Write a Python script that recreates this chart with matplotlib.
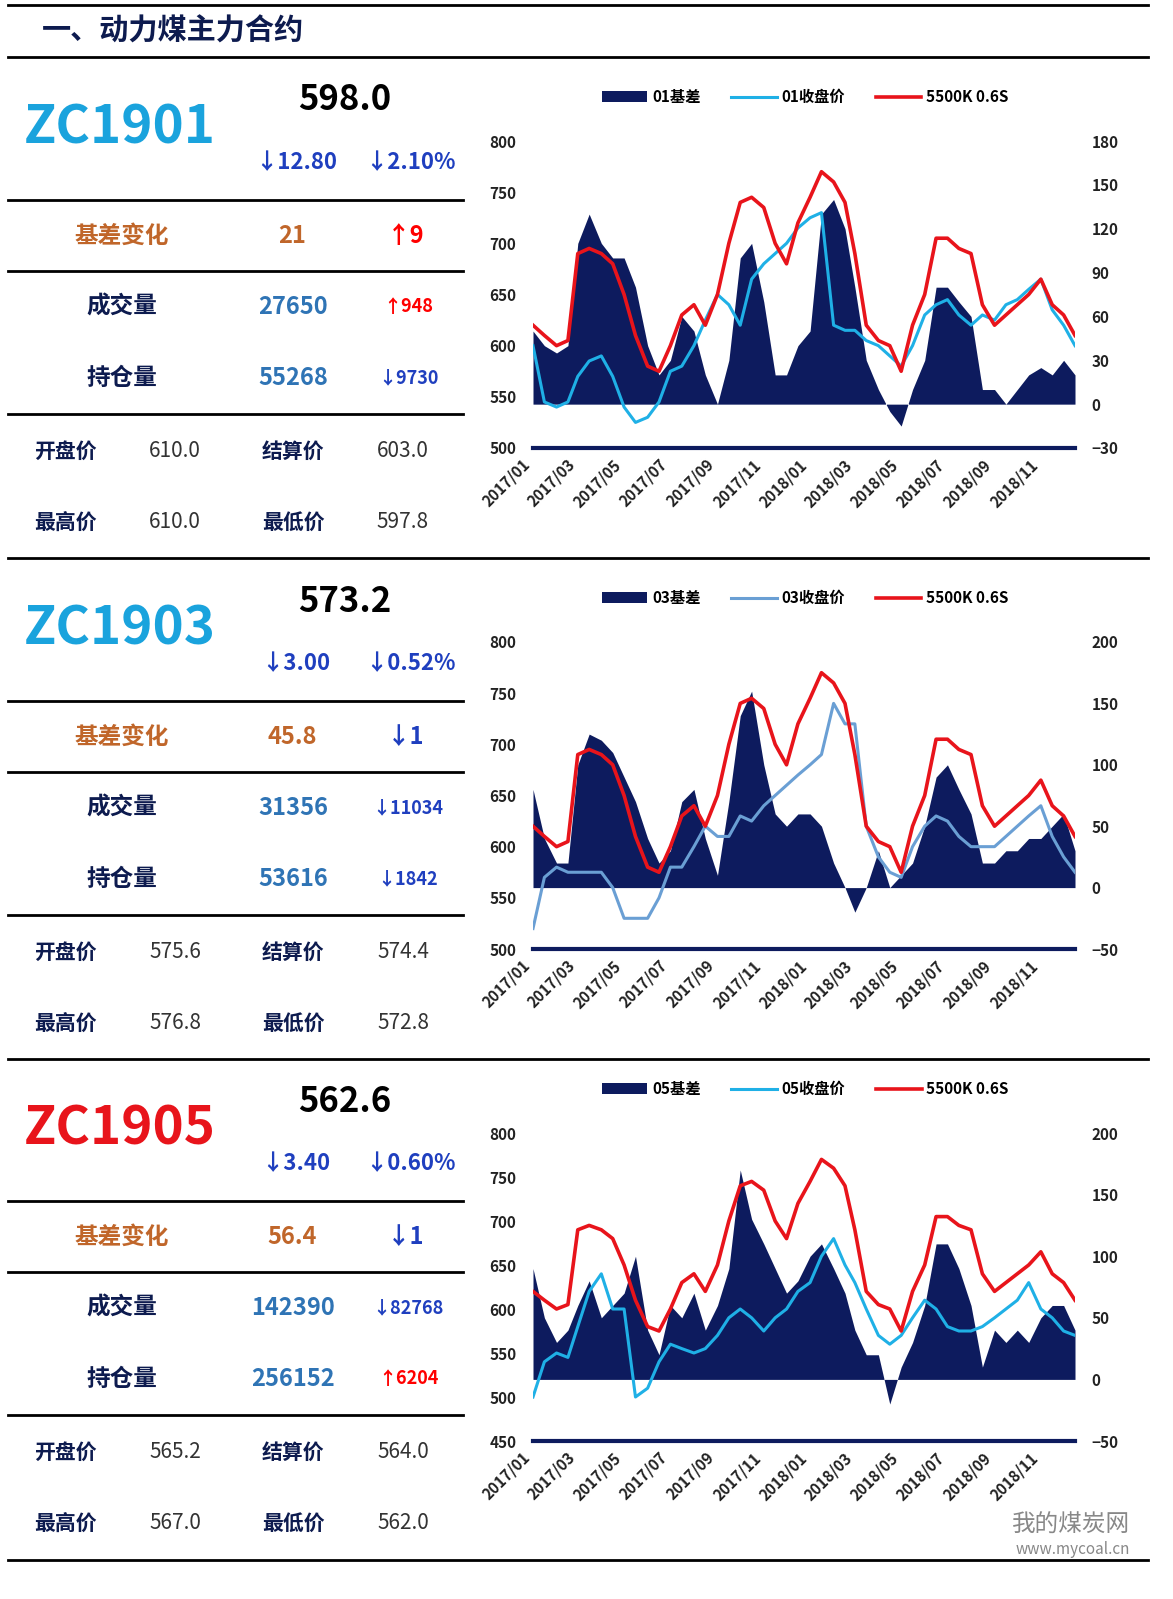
import matplotlib.pyplot as plt
import numpy as np
import pandas as pd

plt.rcParams['font.family'] = 'Noto Sans CJK SC'

W, H = 1173, 1599

# semi-monthly dates 2017/01 - 2018/12
dates = []
for y in (2017, 2018):
    for m in range(1, 13):
        dates.append(pd.Timestamp(y, m, 1))
        dates.append(pd.Timestamp(y, m, 16))
dates = pd.to_datetime(dates)

spot = [620, 610, 600, 605, 690, 695, 690, 680, 650, 610, 580, 575,
        600, 630, 640, 620, 650, 700, 740, 745, 735, 700, 680, 720,
        745, 770, 760, 740, 690, 620, 605, 600, 575, 620, 650, 705,
        705, 695, 690, 640, 620, 630, 640, 650, 665, 640, 630, 610]

close01 = [600, 545, 540, 545, 570, 585, 590, 570, 540, 525, 530, 545,
           575, 580, 600, 625, 650, 640, 620, 665, 680, 690, 700, 715,
           725, 730, 620, 615, 615, 605, 600, 590, 580, 600, 630, 640,
           645, 630, 620, 630, 625, 640, 645, 655, 665, 635, 620, 600]
basis01 = [50, 40, 35, 40, 110, 130, 110, 100, 100, 80, 40, 20,
           30, 60, 50, 20, 0, 30, 100, 110, 70, 20, 20, 40,
           50, 130, 140, 120, 80, 30, 10, -5, -15, 10, 30, 80,
           80, 70, 60, 10, 10, 0, 10, 20, 25, 20, 30, 20]

close03 = [520, 570, 580, 575, 575, 575, 575, 560, 530, 530, 530, 550,
           580, 580, 600, 620, 610, 610, 630, 625, 640, 650, 660, 670,
           680, 690, 740, 720, 720, 620, 590, 575, 570, 600, 620, 630,
           625, 610, 600, 600, 600, 610, 620, 630, 640, 610, 590, 575]
basis03 = [80, 40, 20, 20, 100, 125, 120, 110, 90, 70, 40, 20,
           30, 70, 80, 40, 10, 70, 140, 160, 100, 60, 50, 60,
           60, 50, 20, 0, -20, 0, 30, 0, 10, 20, 50, 90,
           100, 80, 60, 20, 20, 30, 30, 40, 40, 50, 60, 30]

close05 = [500, 540, 550, 545, 580, 620, 640, 600, 600, 500, 510, 540,
           560, 555, 550, 555, 570, 590, 600, 590, 575, 590, 600, 620,
           630, 660, 680, 650, 630, 600, 570, 560, 570, 590, 610, 600,
           580, 575, 575, 580, 590, 600, 610, 630, 600, 590, 575, 570]
basis05 = [90, 50, 30, 40, 60, 80, 50, 60, 70, 100, 40, 20,
           60, 50, 70, 40, 60, 90, 170, 130, 110, 90, 70, 80,
           100, 110, 90, 70, 40, 20, 20, -20, 10, 30, 60, 110,
           110, 90, 60, 10, 40, 30, 40, 30, 50, 60, 60, 40]

xticks = pd.date_range('2017-01-01', '2018-11-01', freq='2MS')
xlabels = [d.strftime('%Y/%m') for d in xticks]

panels = [
    dict(name='ZC1901', ncol='#1aa3dd', price='598.0', chg='↓12.80', pct='↓2.10%',
         jc='21', jcc='↑9', jccol='red', vol='27650', volc='↑948', volcol='red',
         oi='55268', oic='↓9730', oicol='#1f3fbf',
         op='610.0', st='603.0', hi='610.0', lo='597.8',
         close=close01, basis=basis01, lcol='#1fb0e6', tag='01',
         lyl=(500, 800), lyt=[500, 550, 600, 650, 700, 750, 800],
         ryl=(-30, 180), ryt=[-30, 0, 30, 60, 90, 120, 150, 180]),
    dict(name='ZC1903', ncol='#1aa3dd', price='573.2', chg='↓3.00', pct='↓0.52%',
         jc='45.8', jcc='↓1', jccol='#1f3fbf', vol='31356', volc='↓11034', volcol='#1f3fbf',
         oi='53616', oic='↓1842', oicol='#1f3fbf',
         op='575.6', st='574.4', hi='576.8', lo='572.8',
         close=close03, basis=basis03, lcol='#6a9fd4', tag='03',
         lyl=(500, 800), lyt=[500, 550, 600, 650, 700, 750, 800],
         ryl=(-50, 200), ryt=[-50, 0, 50, 100, 150, 200]),
    dict(name='ZC1905', ncol='#e8141b', price='562.6', chg='↓3.40', pct='↓0.60%',
         jc='56.4', jcc='↓1', jccol='#1f3fbf', vol='142390', volc='↓82768', volcol='#1f3fbf',
         oi='256152', oic='↑6204', oicol='red',
         op='565.2', st='564.0', hi='567.0', lo='562.0',
         close=close05, basis=basis05, lcol='#1fb0e6', tag='05',
         lyl=(450, 800), lyt=[450, 500, 550, 600, 650, 700, 750, 800],
         ryl=(-50, 200), ryt=[-50, 0, 50, 100, 150, 200]),
]

fig = plt.figure(figsize=(W / 100, H / 100), dpi=100)


def ft(x, y, s, **kw):
    fig.text(x / W, 1 - y / H, s, ha='center', va='center', **kw)


def hline(y, x0, x1, lw=2, c='black'):
    fig.add_artist(plt.Line2D([x0 / W, x1 / W], [1 - y / H, 1 - y / H], lw=lw, color=c))


hline(5, 8, 1148, 2)
hline(57, 8, 1148, 2)
fig.text(42 / W, 1 - 31 / H, '一、动力煤主力合约', ha='left', va='center',
         fontsize=21, fontweight='bold', color='#0d1b4f')

navy = '#0d1b5e'
for i, p in enumerate(panels):
    o = [0, 501, 1001][i]
    if i < 2:
        hline(558 + o, 8, 1148, 2)
    for yy in (200, 271, 414):
        hline(yy + o, 8, 463, 2)
    ft(120, 128 + o, p['name'], fontsize=38, fontweight='bold', color=p['ncol'])
    ft(345, 100 + o, p['price'], fontsize=25, fontweight='bold', color='black')
    ft(296, 163 + o, p['chg'], fontsize=16, fontweight='bold', color='#1f3fbf')
    ft(410, 163 + o, p['pct'], fontsize=16, fontweight='bold', color='#1f3fbf')
    ft(122, 236 + o, '基差变化', fontsize=17, fontweight='bold', color='#c0662a')
    ft(292, 236 + o, p['jc'], fontsize=17, fontweight='bold', color='#c0662a')
    ft(406, 236 + o, p['jcc'], fontsize=17, fontweight='bold', color=p['jccol'])
    ft(122, 307 + o, '成交量', fontsize=17, fontweight='bold', color='#0d1b4f')
    ft(293, 307 + o, p['vol'], fontsize=17, fontweight='bold', color='#2f74b5')
    ft(408, 307 + o, p['volc'], fontsize=13, fontweight='bold', color=p['volcol'])
    ft(122, 378 + o, '持仓量', fontsize=17, fontweight='bold', color='#0d1b4f')
    ft(293, 378 + o, p['oi'], fontsize=17, fontweight='bold', color='#2f74b5')
    ft(408, 378 + o, p['oic'], fontsize=13, fontweight='bold', color=p['oicol'])
    for yy, a, b, c, d in ((451, '开盘价', p['op'], '结算价', p['st']),
                           (522, '最高价', p['hi'], '最低价', p['lo'])):
        ft(65, yy + o, a, fontsize=15, fontweight='bold', color='#0d1b4f')
        ft(175, yy + o, b, fontsize=15, color='#333333')
        ft(293, yy + o, c, fontsize=15, fontweight='bold', color='#0d1b4f')
        ft(403, yy + o, d, fontsize=15, color='#333333')

    # chart
    top = 141 + o if i < 2 else 1133
    bot = 448 + o if i < 2 else 1441
    ax = fig.add_axes([533 / W, 1 - bot / H, (1075 - 533) / W, (bot - top) / H])
    ax2 = ax.twinx()
    ax.set_zorder(ax2.get_zorder() + 1)
    ax.patch.set_visible(False)
    ax2.fill_between(dates, 0, p['basis'], color=navy, lw=0, label=p['tag'] + '基差')
    ax2.set_ylim(*p['ryl'])
    ax2.set_yticks(p['ryt'])
    ax.plot(dates, p['close'], color=p['lcol'], lw=2.2, label=p['tag'] + '收盘价')
    ax.plot(dates, spot, color='#e8141b', lw=2.6, label='5500K 0.6S')
    ax.set_ylim(*p['lyl'])
    ax.set_yticks(p['lyt'])
    ax.set_xlim(dates[0], dates[-1])
    ax.set_xticks(xticks)
    ax.set_xticklabels(xlabels, rotation=45, ha='right', fontsize=11, fontweight='bold')
    for a in (ax, ax2):
        for s in a.spines.values():
            s.set_visible(False)
        a.tick_params(length=0, labelsize=11, colors='#222222', pad=12)
        for lb in a.get_yticklabels():
            lb.set_fontweight('bold')
    ax.tick_params(axis='x', pad=6)
    ax.spines['bottom'].set_visible(True)
    ax.spines['bottom'].set_color(navy)
    ax.spines['bottom'].set_linewidth(3)
    h1, l1 = ax2.get_legend_handles_labels()
    h2, l2 = ax.get_legend_handles_labels()
    fig.legend(h1 + h2, l1 + l2, loc='center', ncol=3, frameon=False,
               prop={'size': 11, 'weight': 'bold'},
               bbox_to_anchor=(805 / W, 1 - (97 + (o if i < 2 else 992)) / H),
               handlelength=3, handletextpad=0.3, columnspacing=2)

hline(1560, 8, 1148, 2)
fig.text(1130 / W, 1 - 1525 / H, '我的煤炭网', ha='right', va='center', fontsize=17, color='#888888')
fig.text(1130 / W, 1 - 1550 / H, 'www.mycoal.cn', ha='right', va='center', fontsize=11, color='#888888')

fig.savefig('out.png', dpi=100)
